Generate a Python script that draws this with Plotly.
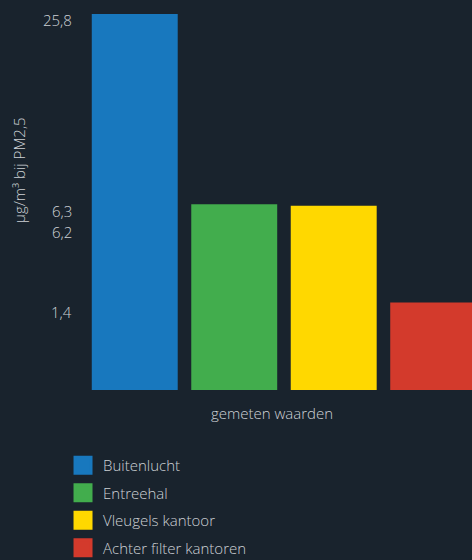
import numpy as np
import plotly.graph_objects as go

# ---- data ----
categories = ["Buitenlucht", "Entreehal", "Vleugels kantoor", "Achter filter kantoren"]
values = [25.8, 6.3, 6.2, 1.4]
value_labels = ["25,8", "6,3", "6,2", "1,4"]
x_title = "gemeten waarden"
y_title = "μg/m³ bij PM2,5"

# ---- style ----
colors = ["#1878BE", "#42AD4D", "#FFD800", "#D33A2C"]
BG = "#19232D"
TXT = "#CDD1D5"
FONT = "Open Sans"
label_nudge_px = [-6, -7, -26, -10]  # keep the close value labels apart

# the chart uses a square-root value scale
scaled = np.sqrt(np.array(values))

fig = go.Figure()
for cat, v, c in zip(categories, scaled, colors):
    fig.add_trace(go.Bar(x=[cat], y=[v], name=cat, showlegend=False,
                         marker=dict(color=c, line=dict(width=0)), hoverinfo="skip"))
# legend entries (larger square swatches)
for cat, c in zip(categories, colors):
    fig.add_trace(go.Scatter(x=[None], y=[None], mode="markers", name=cat, legendgroup=cat,
                             marker=dict(symbol="square", size=16, color=c,
                                         line=dict(color=c, width=3))))

annotations = []
for lab, v, dy in zip(value_labels, scaled, label_nudge_px):
    annotations.append(dict(text=lab, x=0, xref="paper", xanchor="right", xshift=-12,
                            y=v, yref="y", yanchor="middle", yshift=dy, borderpad=0,
                            showarrow=False, font=dict(size=15, color=TXT)))
annotations.append(dict(text=x_title, x=0.4832, xref="paper", xanchor="center",
                        y=-0.0612, yref="paper", yanchor="middle", showarrow=False,
                        font=dict(size=15, color=TXT)))
annotations.append(dict(text=y_title, x=0, xref="paper", xanchor="center", xshift=-66,
                        y=0.585, yref="paper", yanchor="middle", textangle=-90,
                        showarrow=False, font=dict(size=15, color=TXT)))

fig.update_layout(
    width=472, height=560,
    margin=dict(l=85, r=0, t=14, b=170, autoexpand=False),
    paper_bgcolor=BG, plot_bgcolor=BG,
    barmode="relative", bargap=0.136,
    font=dict(family=FONT, size=15, color=TXT, weight=300),
    xaxis=dict(type="category", categoryarray=categories, range=[-0.5, 3.39],
               showticklabels=False, showgrid=False, zeroline=False, showline=False, ticks=""),
    yaxis=dict(range=[0, float(scaled.max())], showticklabels=False, showgrid=False,
               zeroline=False, showline=False, ticks=""),
    legend=dict(xref="paper", yref="paper", x=-0.0568, y=-0.1570,
                xanchor="left", yanchor="top", bgcolor="rgba(0,0,0,0)",
                tracegroupgap=5, traceorder="grouped",
                font=dict(size=15, color=TXT)),
    annotations=annotations,
    showlegend=True,
)

fig.write_html("out.html", config={"displayModeBar": False},
               post_script="document.body.style.margin='0';")
